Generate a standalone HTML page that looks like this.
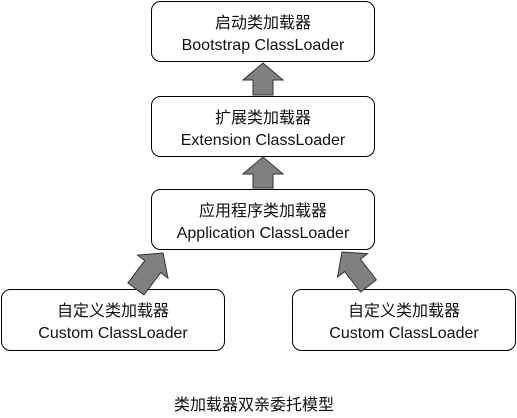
<!DOCTYPE html>
<html><head><meta charset="utf-8"><style>
html,body{margin:0;padding:0;background:#fff;}
svg{display:block;}
text{font-family:"Liberation Sans","Noto Sans CJK SC",sans-serif;font-size:16px;fill:#111;text-anchor:middle;}
</style></head><body>
<svg width="517" height="418" viewBox="0 0 517 418" xmlns="http://www.w3.org/2000/svg">
<g fill="#fff" stroke="#000" stroke-width="1">
<rect x="151.5" y="1.5" width="223" height="60" rx="9"/>
<rect x="151.5" y="96.5" width="223" height="60" rx="9"/>
<rect x="151.5" y="189.5" width="223" height="60" rx="9"/>
<rect x="1.5" y="289.5" width="223" height="61" rx="9"/>
<rect x="292.5" y="289.5" width="223" height="61" rx="9"/>
</g>
<g fill="#808080" stroke="#333" stroke-width="1">
<polygon points="263,63 283,80 273,80 273,95 253,95 253,80 243,80"/>
<polygon points="263,157 283,174 273,174 273,188 253,188 253,174 243,174"/>
<polygon transform="translate(163,253) rotate(37)" points="0,0 19,17 10,17 10,45 -10,45 -10,17 -19,17"/>
<polygon transform="translate(342,252) rotate(-38)" points="0,0 19,17 10,17 10,43 -10,43 -10,17 -19,17"/>
</g>
<text x="263" y="28">启动类加载器</text>
<text x="263" y="50">Bootstrap ClassLoader</text>
<text x="263" y="123">扩展类加载器</text>
<text x="263" y="145">Extension ClassLoader</text>
<text x="263" y="216">应用程序类加载器</text>
<text x="263" y="238">Application ClassLoader</text>
<text x="113" y="316">自定义类加载器</text>
<text x="113" y="338">Custom ClassLoader</text>
<text x="404" y="316">自定义类加载器</text>
<text x="404" y="338">Custom ClassLoader</text>
<text x="254" y="410">类加载器双亲委托模型</text>
</svg>
</body></html>
